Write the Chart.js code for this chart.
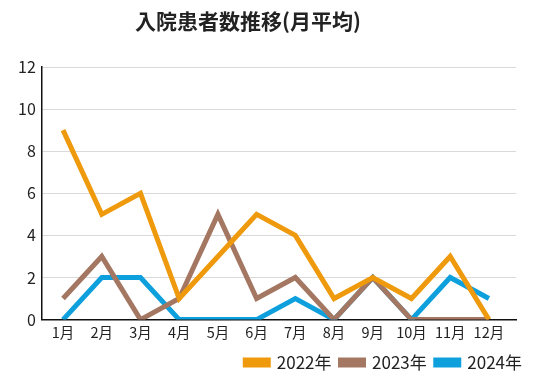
<!DOCTYPE html>
<html><head><meta charset="utf-8">
<script src="https://cdn.jsdelivr.net/npm/chart.js@4/dist/chart.umd.min.js"></script>
<style>html,body{margin:0;padding:0;background:#fff}#wrap{width:556px;height:381px}</style>
</head><body><div id="wrap"><canvas id="c" width="556" height="381"></canvas></div>
<script>
const chartTitle = '入院患者数推移(月平均)';
const months = ['1月','2月','3月','4月','5月','6月','7月','8月','9月','10月','11月','12月'];
const s2022 = [9,5,6,1,3,5,4,1,2,1,3,0];
const s2023 = [1,3,0,1,5,1,2,0,2,0,0,0];
const s2024 = [0,2,2,0,0,0,1,0,2,0,2,1];
const seriesNames = ['2022年','2023年','2024年'];
const colors = ['#EE9A0C','#A47762','#0EA0DD'];
const yTicks = [0,2,4,6,8,10,12];
const font = "'Noto Sans CJK JP','Noto Sans',sans-serif";
function pts(arr){return arr.map((v,i)=>({x:i+1,y:v}));}
const dsList=[s2022,s2023,s2024].map((a,i)=>({label:seriesNames[i],data:pts(a),borderColor:colors[i],backgroundColor:colors[i],borderWidth:5,pointRadius:0,borderJoinStyle:'miter',tension:0}));
const titlePlugin={id:'ttl',afterDraw(chart){const c=chart.ctx;c.save();c.font="bold 21px "+font;c.fillStyle='#222';c.textAlign='center';c.textBaseline='middle';c.fillText(chartTitle,248,21);c.restore();}};
new Chart(document.getElementById('c'),{
 type:'line',
 data:{datasets:dsList},
 plugins:[titlePlugin],
 options:{
  responsive:false,animation:false,
  layout:{padding:{left:12,right:25,top:67,bottom:0}},
  plugins:{
   title:{display:false},
   legend:{position:'bottom',align:'end',labels:{boxWidth:23,boxHeight:5,color:'#222',font:{family:font,size:17},padding:9}},
   tooltip:{enabled:false}
  },
  scales:{
   x:{type:'linear',min:0.45,max:12.7,afterBuildTicks:(ax)=>{ax.ticks=months.map((m,i)=>({value:i+1}));},
      ticks:{callback:(v)=>months[v-1],color:'#222',font:{family:font,size:14.5},autoSkip:false,maxRotation:0,padding:4},
      grid:{display:false,drawTicks:false},border:{color:'#111',width:1.5}},
   y:{min:0,max:12,afterBuildTicks:(ax)=>{ax.ticks=yTicks.map(v=>({value:v}));},
      ticks:{color:'#222',font:{family:font,size:16},padding:6},
      grid:{color:'#d9d9d9',drawTicks:false},border:{color:'#111',width:1.5}},
   y2:{position:'right',display:true,min:0,max:12,ticks:{display:false},grid:{display:false,drawTicks:false},border:{display:false},afterFit:(ax)=>{ax.width=15;}}
  }
 }
});
</script></body></html>
